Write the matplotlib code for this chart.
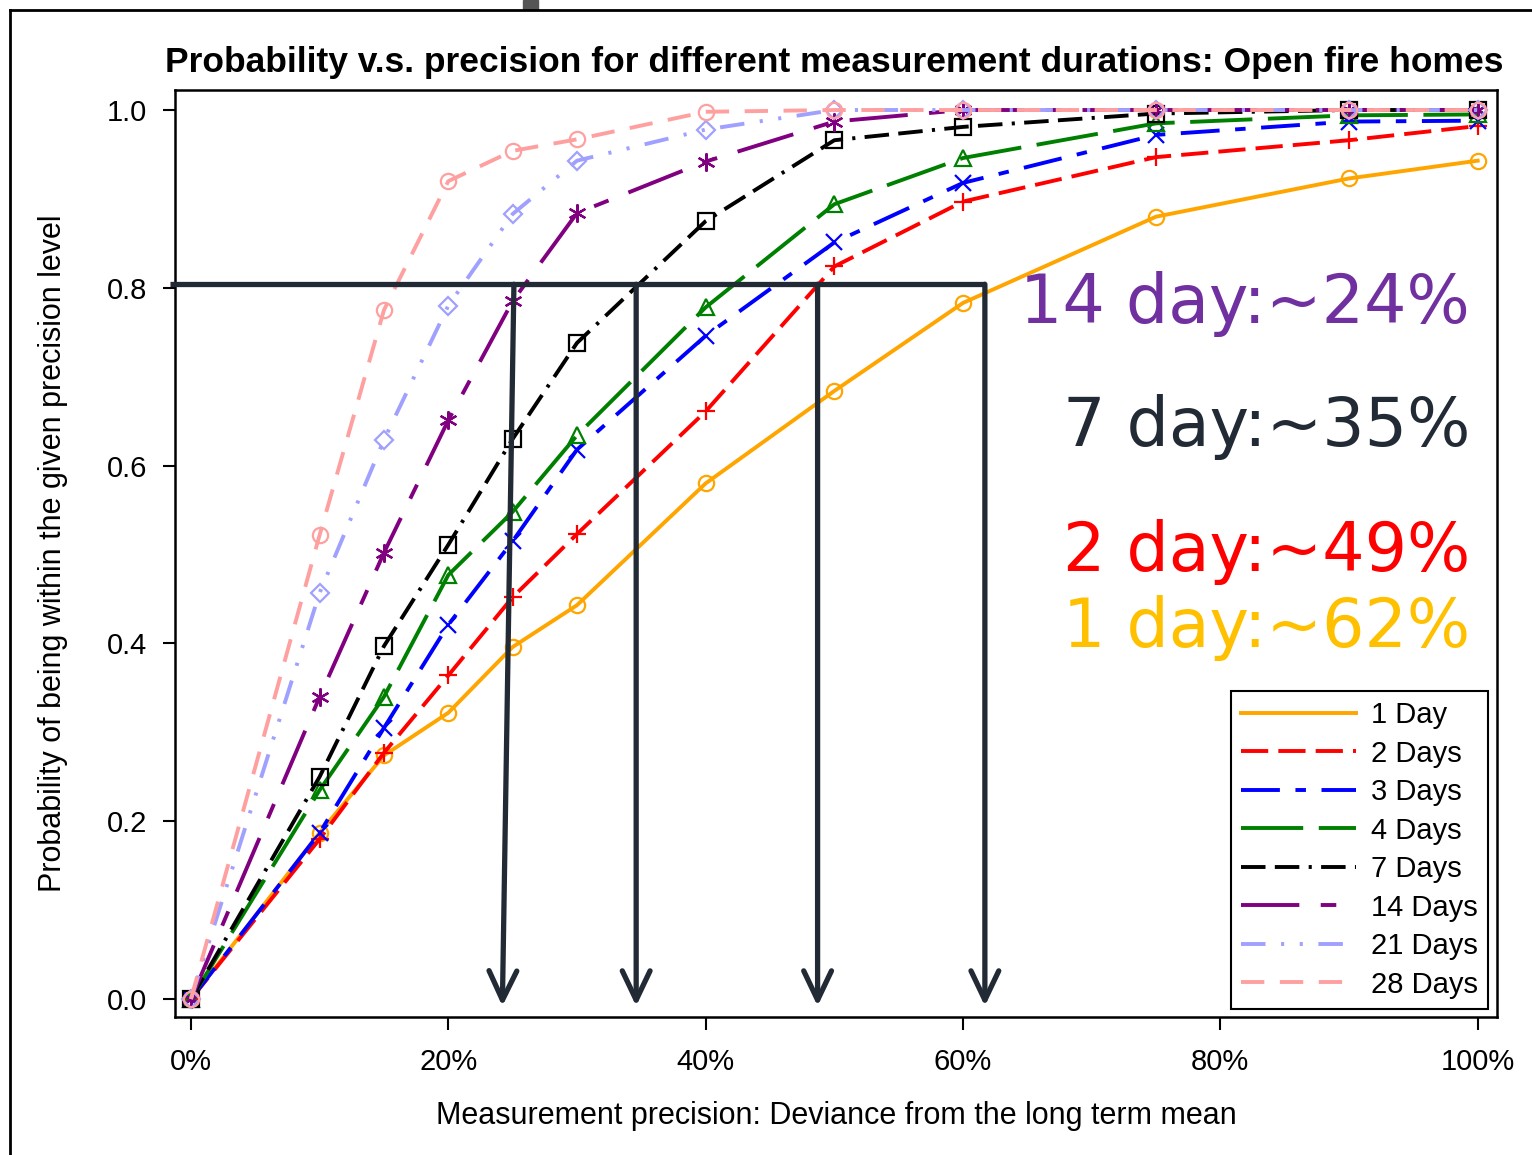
import matplotlib
matplotlib.use("Agg")
import matplotlib.pyplot as plt
from matplotlib.lines import Line2D
from matplotlib.patches import Rectangle

plt.rcParams["font.family"] = ["Liberation Sans", "DejaVu Sans"]

# precision level (%) where SAS put a marker
precision = [0, 10, 15, 20, 25, 30, 40, 50, 60, 75, 90, 100]

day1 = [0, 0.187, 0.274, 0.322, 0.396, 0.443, 0.580, 0.684, 0.783, 0.880, 0.923, 0.943]
day2 = [0, 0.180, 0.277, 0.364, 0.452, 0.523, 0.661, 0.824, 0.897, 0.947, 0.966, 0.982]
day3 = [0, 0.187, 0.305, 0.421, 0.515, 0.618, 0.746, 0.851, 0.918, 0.972, 0.987, 0.988]
day4 = [0, 0.235, 0.340, 0.477, 0.548, 0.634, 0.778, 0.894, 0.946, 0.985, 0.994, 0.995]
day7 = [0, 0.250, 0.397, 0.511, 0.630, 0.738, 0.875, 0.966, 0.981, 0.996, 1.0, 1.0]
day14 = [0, 0.340, 0.502, 0.651, 0.785, 0.884, 0.942, 0.987, 1.0, 1.0, 1.0, 1.0]
day21 = [0, 0.457, 0.629, 0.780, 0.883, 0.943, 0.978, 1.0, 1.0, 1.0, 1.0, 1.0]
day28 = [0, 0.522, 0.775, 0.920, 0.954, 0.967, 0.998, 1.0, 1.0, 1.0, 1.0, 1.0]

series = [day1, day2, day3, day4, day7, day14, day21, day28]
labels = ["1 Day", "2 Days", "3 Days", "4 Days", "7 Days", "14 Days", "21 Days", "28 Days"]

x_ticks = [0, 20, 40, 60, 80, 100]
x_ticklabels = ["0%", "20%", "40%", "60%", "80%", "100%"]
y_ticks = [0.0, 0.2, 0.4, 0.6, 0.8, 1.0]
y_ticklabels = ["0.0", "0.2", "0.4", "0.6", "0.8", "1.0"]

# hand-drawn overlay: 0.8 line and the arrows down to the x axis
cut_level = 0.804
arrow_top_x = [25.1, 34.6, 48.7, 61.7]
arrow_bottom_x = [24.2, 34.6, 48.7, 61.7]
arrow_bottom_y = -0.008

notes = ["14 day:~24%", "7 day:~35%", "2 day:~49%", "1 day:~62%"]
note_colors = ["#7030A0", "#222A35", "#FF0000", "#FFC000"]

title_str = "Probability v.s. precision for different measurement durations: Open fire homes"

colors = ["#FFA500", "#FF0000", "#0000FF", "#008000", "#000000", "#800080", "#A0A0FF", "#FFA0A0"]
markers = ["o", "+", "x", "^", "s", (6, 2, 0), "D", "o"]
msizes = [11, 13, 12, 11, 11, 13, 9, 11]
dashes = [
    None,
    (0, (7, 2.6)),
    (0, (10, 4, 2.7, 4)),
    (0, (16, 4)),
    (0, (6.3, 2.4, 6.3, 2.4, 0.8, 2.4)),
    (0, (15, 5.5, 4, 5.5)),
    (0, (6.3, 4, 0.8, 4, 0.8, 4)),
    (0, (6, 4)),
]
lw = 2.8

fig = plt.figure(figsize=(15.32, 11.55), dpi=100)
ax = fig.add_axes([175 / 1532, 1 - 1017 / 1155, 1322 / 1532, 927 / 1155])

handles = []
for ys, lab, c, m, ms, ls in zip(series, labels, colors, markers, msizes, dashes):
    style = "-" if ls is None else ls
    ax.plot(precision, ys, color=c, lw=lw, ls=style, marker=m, ms=ms,
            mfc="none", mec=c, mew=1.6, zorder=3)
    handles.append(Line2D([], [], color=c, lw=lw, ls=style))

ax.set_xlim(-1.24, 101.5)
ax.set_ylim(-0.0202, 1.0225)
ax.set_xticks(x_ticks)
ax.set_xticklabels(x_ticklabels)
ax.set_yticks(y_ticks)
ax.set_yticklabels(y_ticklabels)
ax.tick_params(direction="out", length=9, width=1.5, labelsize=21)
ax.tick_params(axis="x", pad=13)
ax.tick_params(axis="y", pad=11)
for sp in ax.spines.values():
    sp.set_linewidth(1.8)

ax.set_xlabel("Measurement precision: Deviance from the long term mean", fontsize=22, labelpad=18)
ax.set_ylabel("Probability of being within the given precision level", fontsize=22, labelpad=28)

leg = ax.legend(handles, labels, loc="upper left", bbox_to_anchor=(0.7988, 0.3517),
                borderaxespad=0, fontsize=21, handlelength=3.94, handletextpad=0.5,
                borderpad=0.35, labelspacing=0.36, fancybox=False, framealpha=1,
                edgecolor="black")
leg.get_frame().set_linewidth(1.5)
leg.set_zorder(5)

# overlay lines
dark = "#222B35"
ax.plot([-1.6, arrow_top_x[-1]], [cut_level, cut_level], color=dark, lw=3.8,
        clip_on=False, zorder=6, solid_capstyle="butt")
for xt, xb in zip(arrow_top_x, arrow_bottom_x):
    ax.annotate("", xy=(xb, arrow_bottom_y), xytext=(xt, cut_level),
                arrowprops=dict(arrowstyle="->,head_length=1.05,head_width=0.5",
                                color=dark, lw=3.8, mutation_scale=20,
                                shrinkA=0, shrinkB=0),
                zorder=6)

note_base = [323, 446, 571, 647]
for txt, c, yb in zip(notes, note_colors, note_base):
    fig.text(1470 / 1532, 1 - yb / 1155, txt, color=c, fontsize=48,
             family="DejaVu Sans", ha="right", va="baseline")

title = fig.text((163 + 1505) / 2 / 1532, 1 - 72 / 1155, title_str,
                 ha="center", va="baseline", fontsize=24, fontweight="bold")
fig.canvas.draw()
w = title.get_window_extent().width
title.set_fontsize(24 * 1342 / w)

# slide border bits
fig.add_artist(Line2D([10 / 1532, 10 / 1532], [0, 1 - 10 / 1155], color="black", lw=2))
fig.add_artist(Line2D([10 / 1532, 1], [1 - 10 / 1155, 1 - 10 / 1155], color="black", lw=2))
fig.add_artist(Rectangle((523 / 1532, 1 - 9 / 1155), 15 / 1532, 9 / 1155,
                         color="#555555", transform=fig.transFigure))

fig.savefig("out.png", dpi=100)
